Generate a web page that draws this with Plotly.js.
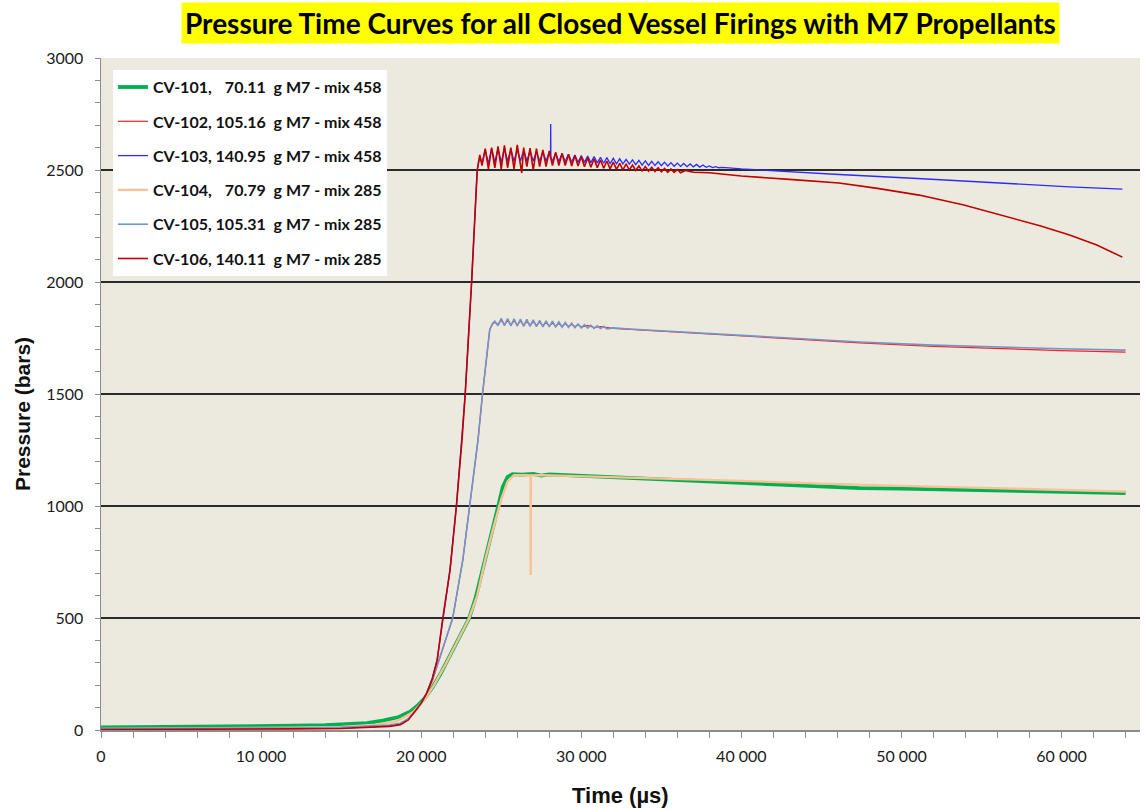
<!DOCTYPE html>
<html>
<head>
<meta charset="utf-8">
<script src="https://cdn.plot.ly/plotly-3.0.1.min.js"></script>
<style>html,body{margin:0;padding:0;background:#fff;}#chart{width:1144px;height:810px;}</style>
</head>
<body>
<div id="chart"></div>
<script>
// ---- Data ----
var seriesNames = [
  "CV-101, \u200770.11\u00a0 g M7 - mix 458",
  "CV-102, 105.16\u00a0 g M7 - mix 458",
  "CV-103, 140.95\u00a0 g M7 - mix 458",
  "CV-104, \u200770.79\u00a0 g M7 - mix 285",
  "CV-105, 105.31\u00a0 g M7 - mix 285",
  "CV-106, 140.11\u00a0 g M7 - mix 285"
];

// CV-101 (70.11 g, mix 458)
var cv101_t = [0,3000,6000,9000,12000,14000,15500,16600,17600,18600,19300,19800,20200,20700,21200,21700,22200,22600,23000,23400,23900,24400,24800,25100,25400,25700,26300,27000,27500,28000,29000,30000,31800,35000,40000,45000,47400,50000,55000,60000,64000];
var cv101_p = [12,13,14,16,19,22,26,31,42,58,82,110,140,190,250,320,390,445,500,590,730,880,996,1085,1130,1142,1140,1143,1136,1141,1138,1136,1130,1118,1104,1088,1080,1078,1070,1063,1058];

// CV-102 (105.16 g, mix 458)
var cv102_t = [0,3000,6000,9000,12000,15000,17000,18000,18700,19200,19700,20100,20700,21350,21970,22600,23030,23550,23830,24100,24280,24450,24600,24800,25000,25200,25400,25600,25800,26000,26200,26400,26600,26800,27000,27200,27400,27600,27800,28000,28200,28400,28600,28800,29000,29200,29400,29600,29800,30000,30400,30800,31200,32000,35000,38000,42000,47400,52000,56000,60000,64000];
var cv102_p = [4,4,5,6,7,10,15,20,28,48,88,128,220,368,500,759,1000,1295,1500,1690,1786,1812,1820,1810,1830,1810,1828,1808,1827,1808,1826,1807,1824,1806,1823,1806,1821,1805,1819,1804,1817,1803,1815,1802,1813,1801,1811,1800,1809,1799,1806,1797,1801,1793,1780,1770,1752,1728,1713,1703,1694,1687];

// CV-103 (140.95 g, mix 458)
var cv103_t = [0,3000,6000,9000,12000,15000,17000,18000,18700,19200,19700,20000,20350,20700,21000,21350,21800,22200,22550,22750,23150,23500,23660,23800,24000,24200,24400,24600,24800,25000,25200,25400,25600,25800,26000,26200,26400,26600,26800,27000,27200,27400,27600,27800,28000,28080,28090,28100,28200,28400,28600,28800,29000,29200,29400,29600,29800,30000,30200,30400,30600,30800,31000,31200,31400,31600,31800,32000,32200,32400,32600,32800,33000,33200,33400,33600,33800,34000,34200,34400,34600,34800,35000,35200,35400,35600,35800,36000,36200,36400,36600,36800,37000,37200,37400,37600,37800,38000,38200,38400,38600,38800,40000,43000,46100,51000,54000,56700,60500,63800];
var cv103_p = [4,4,5,6,7,9,14,19,28,50,95,122,165,232,314,500,714,1000,1295,1500,2000,2500,2560,2530,2590,2530,2595,2535,2595,2535,2595,2540,2592,2540,2590,2540,2588,2540,2585,2540,2582,2540,2580,2540,2578,2555,2705,2555,2540,2575,2538,2572,2538,2570,2536,2567,2535,2565,2534,2562,2533,2560,2532,2557,2530,2555,2529,2552,2528,2550,2527,2547,2526,2545,2524,2543,2522,2541,2521,2539,2520,2537,2519,2535,2518,2533,2517,2531,2516,2529,2515,2527,2514,2525,2513,2522,2512,2518,2511,2515,2510,2512,2505,2492,2480,2462,2450,2440,2425,2415];

// CV-104 (70.79 g, mix 285)
var cv104_t = [0,3000,6000,9000,12000,15000,17000,18500,19500,20200,20800,21500,22200,23000,23500,24000,24500,25000,25400,25800,26500,26830,26840,26850,27500,28500,30000,31800,33000,36000,40000,45000,47400,50000,55000,60000,64000];
var cv104_p = [5,6,7,8,10,14,22,40,80,135,200,290,390,500,600,760,900,1030,1110,1138,1138,1137,692,1137,1138,1136,1134,1130,1126,1120,1112,1100,1094,1090,1081,1072,1064];

// CV-105 (105.31 g, mix 285)
var cv105_t = [0,3000,6000,9000,12000,15000,17000,18000,18700,19200,19700,20100,20700,21350,21970,22600,23030,23550,23830,24100,24280,24450,24600,24800,25000,25200,25400,25600,25800,26000,26200,26400,26600,26800,27000,27200,27400,27600,27800,28000,28200,28400,28600,28800,29000,29200,29400,29600,29800,30000,30200,30400,30600,30800,31000,31200,31400,31600,32000,33000,35000,38000,42000,47400,52000,56000,60000,64000];
var cv105_p = [6,6,7,8,9,12,17,22,30,50,90,130,223,370,500,759,1000,1295,1500,1690,1786,1815,1825,1805,1838,1805,1837,1804,1836,1803,1835,1802,1833,1802,1831,1801,1829,1800,1827,1800,1825,1799,1822,1798,1819,1797,1816,1796,1813,1795,1810,1794,1807,1793,1804,1792,1801,1791,1795,1790,1782,1772,1755,1732,1718,1709,1702,1696];

// CV-106 (140.11 g, mix 285)
var cv106_t = [0,3000,6000,9000,12000,15000,17000,18000,18700,19200,19700,20000,20350,20700,21000,21350,21800,22200,22550,22750,23150,23500,23660,23800,24000,24200,24400,24600,24800,25000,25200,25400,25600,25800,26000,26200,26280,26400,26600,26800,27000,27200,27400,27600,27800,28000,28200,28400,28600,28800,29000,29200,29400,29600,29800,30000,30200,30400,30600,30800,31000,31200,31400,31600,31800,32000,32200,32400,32600,32800,33000,33200,33400,33600,33800,34000,34200,34400,34600,34800,35000,35200,35400,35600,35800,36000,36200,36500,37000,38000,40000,43000,46100,48500,51100,53900,56700,58700,60500,62200,63800];
var cv106_p = [2,2,3,4,5,7,12,16,24,45,92,120,165,230,312,500,714,1000,1295,1500,2000,2500,2567,2520,2595,2505,2600,2510,2605,2505,2610,2510,2600,2505,2612,2510,2487,2600,2515,2598,2500,2595,2515,2590,2515,2585,2520,2580,2520,2575,2520,2570,2518,2565,2518,2560,2515,2555,2512,2550,2510,2545,2508,2540,2505,2535,2503,2530,2500,2527,2500,2522,2498,2518,2496,2515,2495,2512,2493,2510,2492,2507,2490,2505,2489,2502,2488,2498,2490,2488,2473,2458,2442,2418,2388,2344,2290,2250,2210,2165,2111];

var seriesColors = ["#00B050","#FF1F1F","#2B2BFF","#F9C196","#7196CA","#C00000"];
var seriesWidths = [3.8,1.2,1.3,2.4,1.6,1.6];

var xs = [cv101_t,cv102_t,cv103_t,cv104_t,cv105_t,cv106_t];
var ys = [cv101_p,cv102_p,cv103_p,cv104_p,cv105_p,cv106_p];

var traces = [];
for (var i = 0; i < 6; i++) {
  traces.push({
    type: "scatter", mode: "lines",
    x: xs[i], y: ys[i],
    name: seriesNames[i],
    legendgroup: "g" + i,
    line: {color: seriesColors[i], width: seriesWidths[i]},
    hoverinfo: "skip"
  });
}

var uiFont = "Lato, sans-serif";

var layout = {
  width: 1144, height: 810,
  margin: {l: 101, r: 4, t: 58, b: 80},
  paper_bgcolor: "#ffffff",
  plot_bgcolor: "#ECE9DF",
  separators: ". ",
  showlegend: true,
  font: {family: "Liberation Sans, Arial, sans-serif", color: "#1a1a1a"},
  xaxis: {
    range: [0, 64900],
    tickmode: "linear", tick0: 0, dtick: 10000,
    tickformat: ",d",
    ticks: "outside", ticklen: 6, tickcolor: "#8c8c8c", tickwidth: 1,
    minor: {dtick: 2000, ticks: "outside", ticklen: 6, tickcolor: "#8c8c8c", showgrid: false},
    showgrid: false, zeroline: false,
    showline: true, linecolor: "#8c8c8c", linewidth: 1.5,
    tickfont: {family: uiFont, size: 16, color: "#1a1a1a"},
    ticklabelstandoff: 5
  },
  yaxis: {
    range: [0, 3000],
    tickmode: "linear", tick0: 0, dtick: 500,
    tickformat: "d",
    ticks: "outside", ticklen: 5, tickcolor: "#8c8c8c", tickwidth: 1,
    minor: {dtick: 100, ticks: "outside", ticklen: 5, tickcolor: "#8c8c8c", showgrid: false},
    showgrid: true, gridcolor: "#2a2a2a", gridwidth: 1.4,
    zeroline: false,
    showline: true, linecolor: "#8c8c8c", linewidth: 1.5,
    tickfont: {family: uiFont, size: 16, color: "#1a1a1a"},
    ticklabelstandoff: 8
  },
  legend: {
    x: 0.0115, y: 0.982, xanchor: "left", yanchor: "top",
    bgcolor: "#ffffff", borderwidth: 0,
    traceorder: "grouped", tracegroupgap: 10.5,
    font: {family: uiFont, size: 16, color: "#111", weight: "bold"},
    itemwidth: 30
  },
  annotations: [
    {
      xref: "paper", yref: "paper",
      x: 0.5, y: 1, yanchor: "bottom", yshift: 14,
      showarrow: false,
      text: "<b>Pressure Time Curves for all Closed Vessel Firings with M7 Propellants</b>",
      font: {family: uiFont, size: 28, color: "#000"},
      bgcolor: "#FFFF00", borderpad: 3
    },
    {
      xref: "paper", yref: "paper",
      x: 0.5, y: 0, yanchor: "middle", yshift: -65,
      showarrow: false,
      text: "<b>Time (µs)</b>",
      font: {size: 22, color: "#111"}
    },
    {
      xref: "paper", yref: "paper",
      x: 0, y: 0.5, xanchor: "center", yanchor: "middle", xshift: -79, yshift: -20,
      textangle: -90,
      showarrow: false,
      text: "<b>Pressure (bars)</b>",
      font: {size: 21, color: "#111"}
    }
  ]
};

Plotly.newPlot("chart", traces, layout, {displayModeBar: false, staticPlot: true});
</script>
</body>
</html>
